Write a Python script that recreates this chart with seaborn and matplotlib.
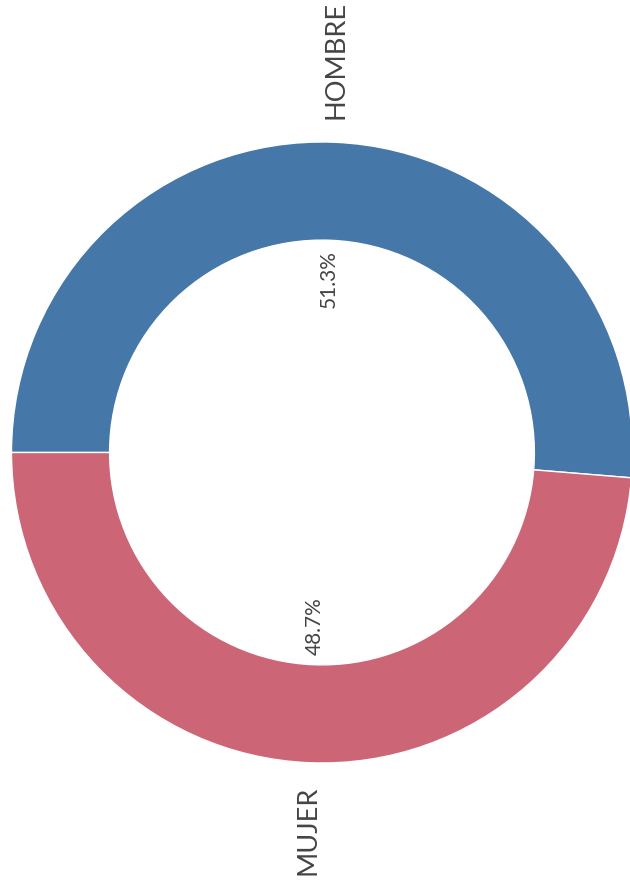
import matplotlib
matplotlib.use("Agg")
import matplotlib.pyplot as plt
import seaborn as sns

# Data
categories = ["HOMBRE", "MUJER"]
shares = [51.3, 48.7]
colors = ["#4577a9", "#cc6676"]

sns.set_theme(style="white")
plt.rcParams['font.family'] = ['Lato', 'DejaVu Sans']

fig = plt.figure(figsize=(6.3, 8.88), dpi=100)
ax = fig.add_axes([0, 0, 1, 1])

wedges, texts, autotexts = ax.pie(
    shares, labels=categories, colors=colors, autopct='%1.1f%%',
    startangle=180, counterclock=False, pctdistance=0.56, labeldistance=1.075,
    wedgeprops=dict(width=0.316, edgecolor='white', linewidth=1),
    textprops=dict(color='#444444'),
)

# rotate text to read bottom-to-top
for t in texts:
    x, y = t.get_position()
    t.set_rotation(90)
    t.set_ha('center')
    t.set_va('bottom' if y > 0 else 'top')
    t.set_fontsize(19.5)
for t in autotexts:
    t.set_rotation(90)
    t.set_fontsize(15)

ax.set_aspect('auto')
ax.set_xlim(-1.037, 0.992)
ax.set_ylim(-1.4026, 1.4573)
ax.axis('off')

plt.savefig("out.png", dpi=100, facecolor='white')
